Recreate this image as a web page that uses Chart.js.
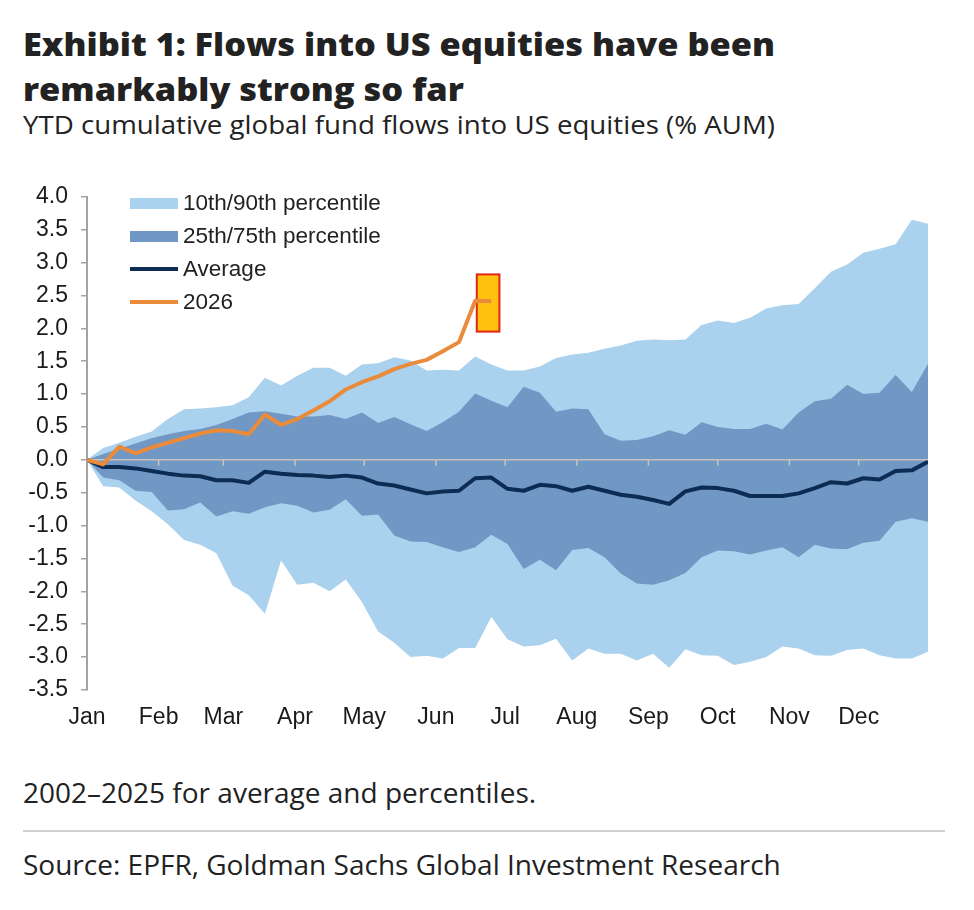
<!DOCTYPE html>
<html>
<head>
<meta charset="utf-8">
<script src="https://cdn.jsdelivr.net/npm/chart.js@4.4.1/dist/chart.umd.min.js"></script>
<style>
  html, body { margin: 0; padding: 0; background: #fff; }
  #page { position: relative; width: 974px; height: 910px; overflow: hidden; color: #1e1e1e; }
  .title { position: absolute; left: 23px; top: 21px; font: 800 32px/45px "Open Sans", sans-serif; color: #222; white-space: nowrap; transform-origin: 0 0; }
  .subtitle { position: absolute; left: 23px; top: 107px; font: 400 26px/34px "Open Sans", sans-serif; color: #222; white-space: nowrap; transform-origin: 0 0; }
  .note { position: absolute; left: 23px; font: 400 28px/38px "Open Sans", sans-serif; color: #222; white-space: nowrap; }
  .rule { position: absolute; left: 23px; top: 830px; width: 922px; height: 2px; background: #d2d2d2; }
  #chartBox { position: absolute; left: 0; top: 170px; width: 974px; height: 570px; }
  #legend { position: absolute; left: 128px; top: 186px; font: 22.5px "Liberation Sans", Arial, sans-serif; color: #222; }
  #legend .row { position: relative; height: 33px; line-height: 33px; padding-left: 55px; white-space: nowrap; }
  #legend .sw { position: absolute; left: 2px; width: 48px; }
</style>
</head>
<body>
<div id="page">
  <div class="title" id="title">Exhibit 1: Flows into US equities have been<br>remarkably strong so far</div>
  <div class="subtitle" id="subtitle">YTD cumulative global fund flows into US equities (% AUM)</div>
  <div id="chartBox"><canvas id="flowChart"></canvas></div>
  <div id="legend"></div>
  <div class="note" style="top:773px">2002–2025 for average and percentiles.</div>
  <div class="rule"></div>
  <div class="note" style="top:845px">Source: EPFR, Goldman Sachs Global Investment Research</div>
</div>
<script>
// week of the year (0 = start of Jan)
const weeks = [0, 1, 2, 3, 4, 5, 6, 7, 8, 9, 10, 11, 12, 13, 14, 15, 16, 17, 18, 19, 20, 21, 22, 23, 24, 25, 26,
  27, 28, 29, 30, 31, 32, 33, 34, 35, 36, 37, 38, 39, 40, 41, 42, 43, 44, 45, 46, 47, 48, 49, 50, 51, 52];
const monthLabels = ['Jan', 'Feb', 'Mar', 'Apr', 'May', 'Jun', 'Jul', 'Aug', 'Sep', 'Oct', 'Nov', 'Dec'];
const monthStartDays = [0, 31, 59, 90, 120, 151, 181, 212, 243, 273, 304, 334];

// YTD cumulative flows, % AUM (2002-2025 distribution)
const p90 = [0, 0.18, 0.26, 0.35, 0.43, 0.62, 0.77, 0.78, 0.80, 0.83, 0.95, 1.25, 1.13, 1.28, 1.40, 1.40, 1.28, 1.45,
  1.47, 1.56, 1.51, 1.36, 1.37, 1.36, 1.57, 1.45, 1.36, 1.36, 1.42, 1.55, 1.60, 1.63, 1.69, 1.74, 1.81, 1.83, 1.82,
  1.83, 2.05, 2.12, 2.08, 2.16, 2.30, 2.35, 2.37, 2.61, 2.86, 2.97, 3.15, 3.21, 3.28, 3.65, 3.59];
const p75 = [0, 0.09, 0.17, 0.25, 0.33, 0.39, 0.44, 0.47, 0.53, 0.62, 0.72, 0.74, 0.70, 0.66, 0.66, 0.68, 0.62, 0.72,
  0.56, 0.65, 0.54, 0.44, 0.57, 0.73, 1.01, 0.90, 0.80, 1.11, 1.02, 0.73, 0.78, 0.77, 0.39, 0.29, 0.30, 0.36, 0.45,
  0.38, 0.57, 0.50, 0.47, 0.47, 0.55, 0.46, 0.72, 0.89, 0.93, 1.14, 1.00, 1.02, 1.29, 1.03, 1.46];
const avgFlow = [0, -0.11, -0.11, -0.13, -0.17, -0.21, -0.24, -0.25, -0.31, -0.31, -0.35, -0.18, -0.21, -0.23, -0.24,
  -0.26, -0.24, -0.27, -0.36, -0.39, -0.45, -0.51, -0.48, -0.47, -0.28, -0.27, -0.44, -0.47, -0.38, -0.40, -0.47,
  -0.41, -0.47, -0.53, -0.56, -0.61, -0.67, -0.48, -0.42, -0.43, -0.47, -0.55, -0.55, -0.55, -0.51, -0.43, -0.34,
  -0.36, -0.28, -0.30, -0.17, -0.16, -0.03];
const p25 = [0, -0.27, -0.31, -0.47, -0.49, -0.77, -0.75, -0.65, -0.86, -0.78, -0.82, -0.72, -0.66, -0.70, -0.80,
  -0.76, -0.60, -0.85, -0.83, -1.15, -1.24, -1.25, -1.33, -1.40, -1.33, -1.14, -1.28, -1.66, -1.52, -1.68, -1.37,
  -1.34, -1.48, -1.73, -1.88, -1.90, -1.83, -1.72, -1.48, -1.38, -1.39, -1.44, -1.38, -1.33, -1.48, -1.29, -1.35,
  -1.36, -1.26, -1.23, -0.94, -0.89, -0.94];
const p10 = [0, -0.40, -0.42, -0.62, -0.78, -0.98, -1.22, -1.29, -1.42, -1.91, -2.06, -2.34, -1.53, -1.90, -1.87,
  -2.00, -1.82, -2.16, -2.61, -2.78, -3.00, -2.98, -3.02, -2.86, -2.86, -2.39, -2.73, -2.84, -2.82, -2.72, -3.05,
  -2.87, -2.95, -2.95, -3.05, -2.95, -3.16, -2.88, -2.97, -2.98, -3.12, -3.07, -3.00, -2.84, -2.87, -2.97, -2.98,
  -2.89, -2.87, -2.97, -3.02, -3.02, -2.92];
// 2026 so far
const flows2026 = [0, -0.07, 0.20, 0.10, 0.19, 0.26, 0.33, 0.40, 0.45, 0.44, 0.39, 0.69, 0.53, 0.62, 0.75, 0.89,
  1.07, 1.18, 1.27, 1.38, 1.46, 1.52, 1.65, 1.79, 2.42, 2.41];

// highlighted latest reading (in week / % AUM units)
const highlight = { x0: 24.1, x1: 25.5, y0: 1.95, y1: 2.82 };

const LIGHT = '#aad1ed';
const DARK = '#7197c4';
const NAVY = '#0c2c54';
const ORANGE = '#ea8b3c';
const AXIS = '#a3a3a3';

// legend
const legendItems = [
  { text: '10th/90th percentile', color: LIGHT, h: 11 },
  { text: '25th/75th percentile', color: DARK, h: 11 },
  { text: 'Average', color: NAVY, h: 4 },
  { text: '2026', color: ORANGE, h: 4 }
];
const legend = document.getElementById('legend');
legendItems.forEach(item => {
  const row = document.createElement('div');
  row.className = 'row';
  const sw = document.createElement('span');
  sw.className = 'sw';
  sw.style.height = item.h + 'px';
  sw.style.top = (17 - item.h / 2) + 'px';
  sw.style.background = item.color;
  row.appendChild(sw);
  row.appendChild(document.createTextNode(item.text));
  legend.appendChild(row);
});

// zero line with month ticks (above the bands, under the lines) and the highlight box
const overlays = {
  id: 'overlays',
  beforeDatasetDraw(chart, args) {
    const { ctx, chartArea, scales } = chart;
    if (args.index === 1) {
      const y0 = scales.y.getPixelForValue(0);
      ctx.save();
      ctx.strokeStyle = '#c9c2bb';
      ctx.lineWidth = 1.5;
      ctx.beginPath();
      ctx.moveTo(chartArea.left, y0);
      ctx.lineTo(chartArea.right, y0);
      monthStartDays.slice(1).forEach(d => {
        const x = scales.x.getPixelForValue(d / 7);
        ctx.moveTo(x, y0);
        ctx.lineTo(x, y0 + 6);
      });
      ctx.stroke();
      ctx.restore();
    }
    if (args.index === 0) {
      const x0 = scales.x.getPixelForValue(highlight.x0);
      const x1 = scales.x.getPixelForValue(highlight.x1);
      const yt = scales.y.getPixelForValue(highlight.y1);
      const yb = scales.y.getPixelForValue(highlight.y0);
      ctx.save();
      ctx.fillStyle = '#ffc20e';
      ctx.fillRect(x0, yt, x1 - x0, yb - yt);
      ctx.strokeStyle = '#e0261b';
      ctx.lineWidth = 2;
      ctx.strokeRect(x0, yt, x1 - x0, yb - yt);
      ctx.restore();
    }
  }
};

const tickFont = { family: '"Liberation Sans", Arial, sans-serif', size: 23 };

new Chart(document.getElementById('flowChart'), {
  type: 'line',
  data: {
    labels: weeks,
    datasets: [
      { label: '2026', data: flows2026, borderColor: ORANGE, borderWidth: 4, fill: false },
      { label: 'Average', data: avgFlow, borderColor: NAVY, borderWidth: 4, fill: false },
      { label: '75th percentile', data: p75, borderWidth: 0, backgroundColor: DARK, fill: '+1' },
      { label: '25th percentile', data: p25, borderWidth: 0, fill: false },
      { label: '90th percentile', data: p90, borderWidth: 0, backgroundColor: LIGHT, fill: '+1' },
      { label: '10th percentile', data: p10, borderWidth: 0, fill: false }
    ]
  },
  options: {
    animation: false,
    responsive: true,
    maintainAspectRatio: false,
    elements: { point: { radius: 0 }, line: { tension: 0, borderJoinStyle: 'round' } },
    layout: { padding: { top: 25, right: 46, left: 0, bottom: 0 } },
    plugins: { legend: { display: false }, tooltip: { enabled: false } },
    scales: {
      x: {
        type: 'linear',
        min: 0,
        max: 52,
        grid: { display: false, drawTicks: false },
        border: { display: false },
        afterBuildTicks: scale => {
          scale.ticks = monthStartDays.map(d => ({ value: d / 7 }));
        },
        afterFit: scale => { scale.height = 50; },
        ticks: {
          autoSkip: false,
          maxRotation: 0,
          padding: 14,
          color: '#1a1a1a',
          font: tickFont,
          callback: (value, index) => monthLabels[index]
        }
      },
      y: {
        min: -3.5,
        max: 4,
        grid: { drawOnChartArea: false, drawTicks: true, tickLength: 6, color: AXIS, lineWidth: 1.5 },
        border: { display: true, color: AXIS, width: 2 },
        afterFit: scale => { scale.width = 87; },
        ticks: {
          stepSize: 0.5,
          padding: 13,
          color: '#1a1a1a',
          font: tickFont,
          callback: value => value.toFixed(1)
        }
      }
    }
  },
  plugins: [overlays]
});

// the heading faces are wider / narrower than anything installed: stretch to the original widths
const fitWidth = (id, w) => {
  const el = document.getElementById(id);
  el.style.transform = 'scaleX(' + (w / el.getBoundingClientRect().width) + ')';
};
fitWidth('title', 752);
fitWidth('subtitle', 752);
</script>
</body>
</html>
